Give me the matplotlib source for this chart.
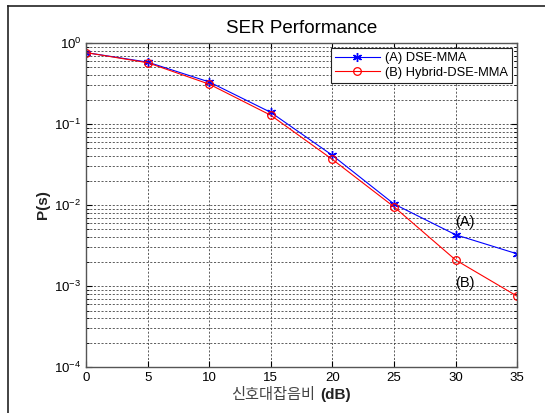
import matplotlib
matplotlib.use("Agg")
import matplotlib.pyplot as plt
from matplotlib.lines import Line2D
from matplotlib.ticker import LogLocator, NullFormatter

# SNR (dB)
snr = [0, 5, 10, 15, 20, 25, 30, 35]
# (A) DSE-MMA
ser_a = [0.76, 0.58, 0.33, 0.139, 0.041, 0.0103, 0.0043, 0.0025]
# (B) Hybrid-DSE-MMA
ser_b = [0.76, 0.57, 0.31, 0.128, 0.0365, 0.0095, 0.0021, 0.00075]

xticks = [0, 5, 10, 15, 20, 25, 30, 35]

plt.rcParams["font.family"] = ["Liberation Sans", "Noto Sans CJK KR", "DejaVu Sans"]
plt.rcParams["mathtext.fontset"] = "custom"
plt.rcParams["mathtext.rm"] = "Liberation Sans"

fig = plt.figure(figsize=(5.45, 4.13), dpi=100)
ax = fig.add_axes([0.158, 0.111, 0.791, 0.785])

# outer frame (top / left edges visible in the image)
fig.add_artist(Line2D([8 / 545, 1], [1 - 6 / 413, 1 - 6 / 413], color="#222222", lw=1.2))
fig.add_artist(Line2D([8 / 545, 8 / 545], [0, 1 - 6 / 413], color="#222222", lw=1.2))

ax.semilogy(snr, ser_a, "-", marker=(6, 2, 0), color="blue", lw=0.8, ms=6.5, mew=1.0,
            label="(A) DSE-MMA")
ax.semilogy(snr, ser_b, "-o", color="red", lw=0.8, ms=5.5, mfc="none", mew=0.9,
            label="(B) Hybrid-DSE-MMA")

ax.set_xlim(0, 35)
ax.set_ylim(1e-4, 1)
ax.set_xticks(xticks)
ax.yaxis.set_major_locator(LogLocator(base=10, numticks=10))
ax.yaxis.set_minor_locator(LogLocator(base=10, subs=range(2, 10), numticks=10))
ax.yaxis.set_minor_formatter(NullFormatter())

ax.grid(True, which="major", axis="both", linestyle=(0, (2.5, 2)), color="#444444", lw=0.6)
ax.grid(True, which="minor", axis="y", linestyle=(0, (2.5, 2)), color="#444444", lw=0.6)
ax.tick_params(which="both", direction="in", top=True, right=True, labelsize=9.5)
ax.tick_params(which="major", length=4)
ax.tick_params(which="minor", length=2)
for s in ax.spines.values():
    s.set_color("#555555")
    s.set_linewidth(1.0)

ax.set_title("SER Performance", fontsize=13.5, pad=7)
ax.set_ylabel("P(s)", fontsize=11, fontweight="bold", color="#222222", labelpad=3)

# x label: Korean part in a light weight, "(dB)" in bold
ax.text(0.531, -28 / 324, "신호대잡음비", transform=ax.transAxes, fontsize=11,
        color="#444444", ha="right", va="center")
ax.text(0.543, -28 / 324, "(dB)", transform=ax.transAxes, fontsize=11,
        fontweight="bold", color="#222222", ha="left", va="center")

ax.text(30.0, 0.0062, "(A)", fontsize=10.5, ha="left", va="center")
ax.text(30.0, 0.00108, "(B)", fontsize=10.5, ha="left", va="center")

leg = ax.legend(loc="upper right", fontsize=9.3, fancybox=False, framealpha=1,
                edgecolor="#222222", borderpad=0.3, handlelength=3.5,
                labelspacing=0.2, borderaxespad=0.4, handletextpad=0.4)
leg.get_frame().set_linewidth(0.8)

fig.savefig("out.png", dpi=100)
